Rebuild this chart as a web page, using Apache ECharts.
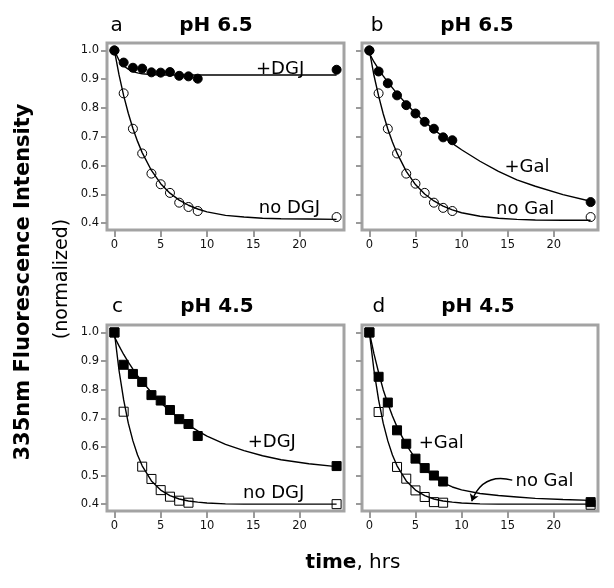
<!DOCTYPE html>
<html><head><meta charset="utf-8">
<script src="https://cdn.jsdelivr.net/npm/echarts@6/dist/echarts.min.js"></script>
<style>html,body{margin:0;padding:0;background:#fff}#c{width:614px;height:588px}</style>
</head><body><div id="c"></div>
<script>
// ---- data ----
const tA = [0,1,2,3,4,5,6,7,8,9,24];
const aDGJ  = [1.00,0.958,0.940,0.937,0.924,0.923,0.925,0.912,0.910,0.902,0.933];
const aNone = [1.00,0.851,0.728,0.642,0.572,0.535,0.505,0.471,0.456,0.442,0.421];
const bGal  = [1.00,0.927,0.886,0.844,0.810,0.781,0.752,0.728,0.698,0.688,0.473];
const bNone = [1.00,0.851,0.728,0.642,0.572,0.537,0.505,0.471,0.453,0.442,0.421];
const cDGJ  = [1.00,0.887,0.855,0.827,0.781,0.762,0.729,0.697,0.680,0.638,0.533];
const tOpen = [0,1,3,4,5,6,7,8,24];
const cNone = [1.00,0.723,0.531,0.488,0.449,0.426,0.412,0.405,0.400];
const tD = [0,1,2,3,4,5,6,7,8,24];
const dGal  = [1.00,0.845,0.755,0.658,0.611,0.559,0.526,0.500,0.479,0.407];
const dNone = [1.00,0.722,0.530,0.489,0.448,0.425,0.407,0.405,0.398];
// fitted curves
const tFit = [0,0.5,1,1.5,2,2.5,3,4,5,6,7,8,9,10,12,14,16,18,21,24];
const aDGJfit  = [1.0,0.966,0.946,0.935,0.927,0.922,0.919,0.916,0.915,0.915,0.915,0.915,0.915,0.915,0.915,0.915,0.915,0.915,0.915,0.915];
const aNoneFit = [1.0,0.915,0.843,0.782,0.729,0.684,0.645,0.583,0.537,0.504,0.480,0.462,0.449,0.439,0.427,0.421,0.417,0.415,0.414,0.413];
const bGalFit  = [0.99,0.96,0.935,0.912,0.89,0.87,0.85,0.815,0.782,0.752,0.725,0.70,0.677,0.655,0.615,0.580,0.550,0.528,0.499,0.476];
const bNoneFit = [1.0,0.913,0.842,0.780,0.727,0.682,0.643,0.580,0.534,0.501,0.477,0.459,0.446,0.436,0.424,0.417,0.413,0.411,0.410,0.410];
const cDGJfit  = [0.985,0.953,0.923,0.896,0.872,0.849,0.828,0.790,0.755,0.725,0.699,0.676,0.656,0.638,0.609,0.587,0.569,0.555,0.541,0.531];
const cNoneFit = [1.0,0.867,0.764,0.683,0.621,0.572,0.534,0.481,0.449,0.430,0.418,0.411,0.407,0.404,0.401,0.400,0.400,0.400,0.400,0.400];
const dGalFit  = [1.0,0.925,0.860,0.800,0.752,0.708,0.670,0.607,0.559,0.523,0.495,0.474,0.460,0.450,0.437,0.430,0.425,0.420,0.416,0.413];
const dNoneFit = [1.0,0.867,0.764,0.683,0.621,0.572,0.534,0.481,0.449,0.430,0.418,0.411,0.407,0.404,0.401,0.400,0.400,0.400,0.400,0.400];
const xTicks = [0,5,10,15,20];
const yTicks = [0.4,0.5,0.6,0.7,0.8,0.9,1.0];
const panelLetters = ['a','b','c','d'];
const panelTitles = ['pH 6.5','pH 6.5','pH 4.5','pH 4.5'];
// curve labels: [panel, t, value, text]
const curveLabels = [
  [0,17.9,0.935,'+DGJ'],[0,18.9,0.450,'no DGJ'],
  [1,17.1,0.595,'+Gal'],[1,16.9,0.447,'no Gal'],
  [2,17.0,0.615,'+DGJ'],[2,17.2,0.437,'no DGJ'],
  [3,7.8,0.611,'+Gal'],[3,19.0,0.480,'no Gal']
];
const arrowD = [[11.1,0.41],[15.5,0.484]];

// ---- chart ----
const FONT = 'DejaVu Sans';
const grids = [
  {left:107, top:43, width:237, height:187},
  {left:362, top:43, width:236, height:187},
  {left:107, top:325, width:237, height:186},
  {left:362, top:325, width:236, height:186}
];
const pair = (t,v) => t.map((x,i)=>[x,v[i]]);
const chart = echarts.init(document.getElementById('c'), null, {renderer:'canvas'});
const xAxis = [], yAxis = [], series = [];
grids.forEach((g,i)=>{
  xAxis.push({type:'value', gridIndex:i, min:-0.8, max:24.8,
    axisLine:{show:false, onZero:false}, splitLine:{show:false},
    axisTick:{show:true, length:7, customValues:xTicks, lineStyle:{color:'#9a9a9a', width:2}},
    axisLabel:{show:true, customValues:xTicks, margin:9, fontFamily:FONT, fontSize:11.5, color:'#111'}});
  yAxis.push({type:'value', gridIndex:i, min:0.376, max:1.026,
    axisLine:{show:false, onZero:false}, splitLine:{show:false},
    axisTick:{show:true, length:6, customValues:yTicks, lineStyle:{color:'#9a9a9a', width:2}},
    axisLabel:{show:(i%2===0), customValues:yTicks, margin:8, fontFamily:FONT, fontSize:11.5, color:'#111',
      formatter:v=>v.toFixed(1)}});
});
function fit(i, v){ series.push({type:'line', xAxisIndex:i, yAxisIndex:i, data:pair(tFit,v), showSymbol:false, symbol:'none',
  smooth:false, lineStyle:{color:'#000', width:1.4}, z:2, silent:true}); }
function pts(i, t, v, shape, filled){ series.push({type:'scatter', xAxisIndex:i, yAxisIndex:i, data:pair(t,v),
  symbol:shape, symbolSize: 9,
  itemStyle:{color: filled?'#000':'rgba(0,0,0,0)', borderColor:'#000', borderWidth:1, opacity:1}, z: filled?4:3, silent:true}); }
fit(0,aDGJfit); fit(0,aNoneFit); pts(0,tA,aNone,'circle',false); pts(0,tA,aDGJ,'circle',true);
fit(1,bGalFit); fit(1,bNoneFit); pts(1,tA,bNone,'circle',false); pts(1,tA,bGal,'circle',true);
fit(2,cDGJfit); fit(2,cNoneFit); pts(2,tOpen,cNone,'rect',false); pts(2,tA,cDGJ,'rect',true);
fit(3,dGalFit); fit(3,dNoneFit); pts(3,tOpen,dNone,'rect',false); pts(3,tD,dGal,'rect',true);
series.push({type:'lines', coordinateSystem:'cartesian2d', xAxisIndex:3, yAxisIndex:3, polyline:false,
  data:[{coords:arrowD}], symbol:['arrow','none'], symbolSize:7,
  lineStyle:{color:'#000', width:1.3, curveness:0.45, opacity:1}, z:5, silent:true});

const titleGraphics = [];
const titleRows = [25.5, 25.5, 307, 307];
const letterX = [116.7, 377, 117.5, 378.8];
const titleX = [216, 477, 217, 478];
for (let i=0;i<4;i++){
  titleGraphics.push({type:'text', x:letterX[i], y:titleRows[i], style:{text:panelLetters[i], font:'20px "DejaVu Sans"', fill:'#000', align:'center', verticalAlign:'middle'}});
  titleGraphics.push({type:'text', x:titleX[i], y:titleRows[i], style:{text:panelTitles[i], font:'bold 20px "DejaVu Sans"', fill:'#000', align:'center', verticalAlign:'middle'}});
}
titleGraphics.push({type:'text', x:24, y:282, rotation:Math.PI/2, style:{text:'335nm Fluorescence Intensity', font:'bold 21px "DejaVu Sans"', fill:'#000', align:'center', verticalAlign:'middle'}});
titleGraphics.push({type:'text', x:62, y:279, rotation:Math.PI/2, style:{text:'(normalized)', font:'19px "DejaVu Sans"', fill:'#000', align:'center', verticalAlign:'middle'}});
titleGraphics.push({type:'text', x:353, y:563, style:{text:'{b|time}{r|, hrs}', align:'center', verticalAlign:'middle',
  rich:{b:{font:'bold 20px "DejaVu Sans"', fill:'#000'}, r:{font:'20px "DejaVu Sans"', fill:'#000'}}}});

chart.setOption({
  animation:false,
  backgroundColor:'#fff',
  grid: grids.map(g=>Object.assign({show:true, borderColor:'#a3a3a3', borderWidth:3, backgroundColor:'transparent', containLabel:false}, g)),
  xAxis, yAxis, series,
  graphic: titleGraphics
});
// curve labels placed in data coordinates
const lab = curveLabels.map(([p,t,v,txt])=>{
  const px = chart.convertToPixel({gridIndex:p}, [t,v]);
  return {type:'text', x:px[0], y:px[1], style:{text:txt, font:'18px "DejaVu Sans"', fill:'#000', align:'center', verticalAlign:'middle'}, z:10};
});
chart.setOption({graphic: titleGraphics.concat(lab)});
</script></body></html>
